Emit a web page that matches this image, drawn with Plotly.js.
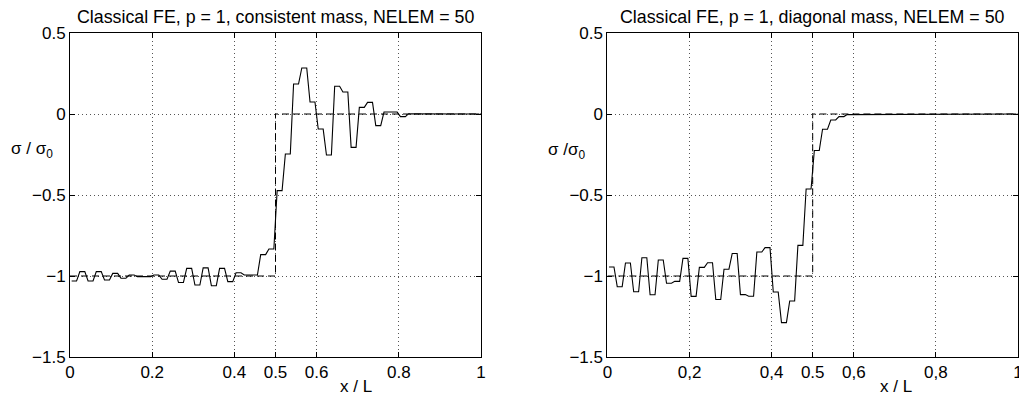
<!DOCTYPE html>
<html>
<head>
<meta charset="utf-8">
<script src="https://cdn.plot.ly/plotly-3.0.1.min.js"></script>
<style>html,body{margin:0;padding:0;background:#fff;}#chart{width:1019px;height:399px;}</style>
</head>
<body>
<div id="chart"></div>
<script>
// ---- data ----
const NELEM = 50;
// element stress sigma/sigma0, consistent mass
const consistentStress = [
  -1.031, -0.973, -1.031, -0.973, -1.025, -0.984, -1.014, -0.994, -1.004, -1.004,
  -0.994, -1.020, -0.970, -1.040, -0.953, -1.056, -0.950, -1.060, -0.953, -1.035,
  -0.980, -0.994, -0.994, -0.868, -0.833, -0.473, -0.247, 0.185, 0.284, 0.074,
  -0.093, -0.253, 0.171, 0.136, -0.206, 0.041, 0.072, -0.072, 0.012, 0.012,
  -0.016, 0.002, 0.000, -0.002, 0.000, 0.000, 0.000, 0.000, 0.000, 0.000
];
// element stress sigma/sigma0, diagonal (lumped) mass
const diagonalStress = [
  -0.944, -1.066, -0.920, -1.097, -0.887, -1.116, -0.901, -1.045, -1.033, -0.891,
  -1.126, -0.947, -0.918, -1.145, -0.958, -0.861, -1.115, -1.125, -0.852, -0.825,
  -1.099, -1.288, -1.154, -0.811, -0.463, -0.225, -0.094, -0.037, -0.016, -0.004,
  0.000, 0.000, 0.000, 0.000, 0.000, 0.000, 0.000, 0.000, 0.000, 0.000,
  0.000, 0.000, 0.000, 0.000, 0.000, 0.000, 0.000, 0.000, 0.000, 0.000
];
// exact solution (step front at x/L = 0.5)
const exactX = [0, 0.5, 0.5, 1];
const exactY = [-1, -1, 0, 0];

const xTickVals = [0, 0.2, 0.4, 0.5, 0.6, 0.8, 1];
const xTickTextLeft = ['0', '0.2', '0.4', '0.5', '0.6', '0.8', '1'];
const xTickTextRight = ['0', '0,2', '0,4', '0.5', '0,6', '0,8', '1'];
const yTickVals = [-1.5, -1, -0.5, 0, 0.5];
const yTickText = ['\u22121.5', '\u22121', '\u22120.5', '0', '0.5'];

const titleLeft = 'Classical FE, p = 1, consistent mass, NELEM = 50';
const titleRight = 'Classical FE, p = 1, diagonal mass, NELEM = 50';

// ---- build element-wise constant stress polyline ----
function elementLine(vals) {
  const h = 1 / NELEM, x = [], y = [];
  vals.forEach((v, i) => {
    x.push(i * h + 0.2 * h, i * h + 0.8 * h);
    y.push(v, v);
  });
  return {x, y};
}

const FONT = 'Liberation Sans, Arial, Helvetica, sans-serif';
const lc = elementLine(consistentStress);
const ld = elementLine(diagonalStress);

const traces = [
  {x: exactX, y: exactY, xaxis: 'x', yaxis: 'y', mode: 'lines', line: {color: '#000', width: 1, dash: '7px,4px'}, hoverinfo: 'skip'},
  {x: lc.x, y: lc.y, xaxis: 'x', yaxis: 'y', mode: 'lines', line: {color: '#000', width: 1.1}},
  {x: exactX, y: exactY, xaxis: 'x2', yaxis: 'y2', mode: 'lines', line: {color: '#000', width: 1, dash: '7px,4px'}, hoverinfo: 'skip'},
  {x: ld.x, y: ld.y, xaxis: 'x2', yaxis: 'y2', mode: 'lines', line: {color: '#000', width: 1.1}}
];

function xax(domain, text, anchor) {
  return {domain, anchor, range: [0, 1], tickvals: xTickVals, ticktext: text,
    showgrid: true, gridcolor: '#555', griddash: '1px,3px', gridwidth: 1, zeroline: false,
    showline: true, linecolor: '#000', linewidth: 1, mirror: 'ticks', ticks: 'inside', ticklen: 5,
    ticklabeloverflow: 'allow',
    tickcolor: '#000', tickfont: {family: FONT, size: 17, color: '#000'}, fixedrange: true};
}
function yax(domain, anchor) {
  return {domain, anchor, range: [-1.5, 0.5], tickvals: yTickVals, ticktext: yTickText,
    showgrid: true, gridcolor: '#555', griddash: '1px,3px', gridwidth: 1, zeroline: false,
    showline: true, linecolor: '#000', linewidth: 1, mirror: 'ticks', ticks: 'inside', ticklen: 5,
    tickcolor: '#000', tickfont: {family: FONT, size: 17, color: '#000'}, fixedrange: true};
}

const W = 1019, H = 399;
const yDom = [(H - 357) / H, (H - 33) / H];
const layout = {
  width: W, height: H, margin: {l: 0, r: 0, t: 0, b: 0},
  paper_bgcolor: '#fff', plot_bgcolor: '#fff', showlegend: false,
  xaxis: xax([70 / W, 481 / W], xTickTextLeft, 'y'),
  yaxis: yax(yDom, 'x'),
  xaxis2: xax([607.4 / W, 1018 / W], xTickTextRight, 'y2'),
  yaxis2: yax(yDom, 'x2'),
  annotations: [
    {text: titleLeft, xref: 'paper', yref: 'paper', x: 275.5 / W, y: 1 - 17 / H, showarrow: false, xanchor: 'center', yanchor: 'middle', font: {family: FONT, size: 17.8, color: '#000'}},
    {text: titleRight, xref: 'paper', yref: 'paper', x: 812.7 / W, y: 1 - 17 / H, showarrow: false, xanchor: 'center', yanchor: 'middle', font: {family: FONT, size: 17.8, color: '#000'}},
    {text: 'x / L', xref: 'paper', yref: 'paper', x: 356 / W, y: 1 - 386 / H, showarrow: false, xanchor: 'center', yanchor: 'middle', font: {family: FONT, size: 17, color: '#000'}},
    {text: 'x / L', xref: 'paper', yref: 'paper', x: 896 / W, y: 1 - 386 / H, showarrow: false, xanchor: 'center', yanchor: 'middle', font: {family: FONT, size: 17, color: '#000'}},
    {text: '\u03c3 / \u03c3<sub>0</sub>', xref: 'paper', yref: 'paper', x: 32 / W, y: 1 - 150 / H, showarrow: false, xanchor: 'center', yanchor: 'middle', font: {family: FONT, size: 17, color: '#000'}},
    {text: '\u03c3 /\u03c3<sub>0</sub>', xref: 'paper', yref: 'paper', x: 566 / W, y: 1 - 151 / H, showarrow: false, xanchor: 'center', yanchor: 'middle', font: {family: FONT, size: 17, color: '#000'}}
  ]
};

Plotly.newPlot('chart', traces, layout, {staticPlot: true, displayModeBar: false});
</script>
</body>
</html>
